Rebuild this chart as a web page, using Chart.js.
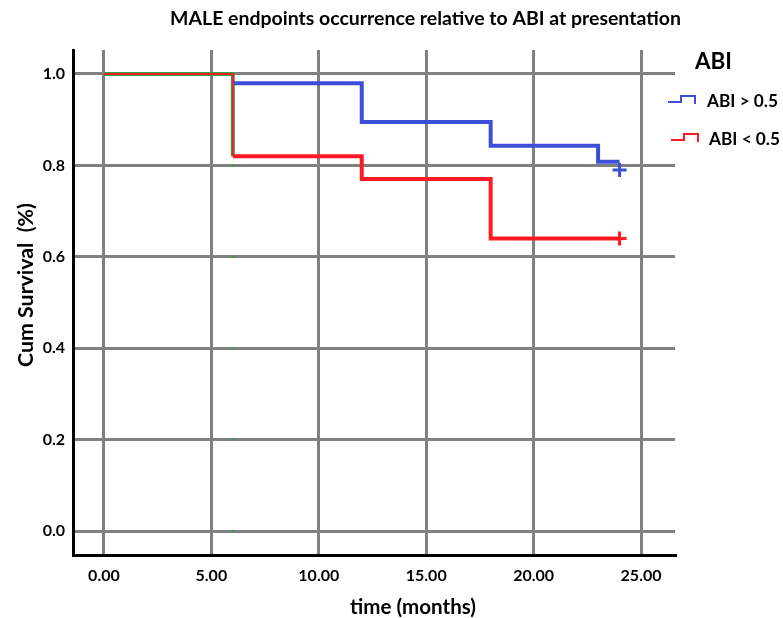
<!DOCTYPE html>
<html>
<head>
<meta charset="utf-8">
<script src="https://cdn.jsdelivr.net/npm/chart.js@4/dist/chart.umd.min.js"></script>
<style>
html,body{margin:0;padding:0;background:#fff;}
#wrap{width:783px;height:618px;position:relative;}
</style>
</head>
<body>
<div id="wrap"><canvas id="c" width="783" height="618"></canvas></div>
<script>
// ---- data ----
const chartTitle = "MALE endpoints occurrence relative to ABI at presentation";
const xTitleBold = "time";
const xTitleRest = " (months)";
const yTitle = "Cum Survival  (%)";
const legendTitle = "ABI";
const xTickValues = [0, 5, 10, 15, 20, 25];
const yTickValues = [0, 0.2, 0.4, 0.6, 0.8, 1.0];

const highLabel = "ABI > 0.5";
const highTime = [0, 6, 12, 18, 23, 24];
const highSurv = [1.0, 0.98, 0.895, 0.843, 0.808, 0.808];
const highCensorTime = [24];
const highCensorSurv = [0.79];

const lowLabel = "ABI < 0.5";
const lowTime = [0, 6, 12, 18, 24];
const lowSurv = [1.0, 0.82, 0.77, 0.64, 0.64];
const lowCensorTime = [24];
const lowCensorSurv = [0.64];

const overallTime = [0, 6];
const overallSurv = [1.0, 0.82];
const overallMarkTime = [6, 6, 6, 6, 6];
const overallMarkSurv = [0.8, 0.6, 0.4, 0.2, 0.0];

// ---- build ----
const BLUE = "#3d4fd6";
const RED = "#ff1a24";
const GREEN = "#1fae45";
const GRID = "#808080";
const FONT = "Lato, 'Open Sans', 'Liberation Sans', sans-serif";

const pts = (xs, ys) => xs.map((x, i) => ({x: x, y: ys[i]}));
const firstThin = {borderWidth: c => (c.p0DataIndex === 0 ? 2 : 4)};

function fitFont(ctx, text, width, weight) {
  ctx.font = weight + " 100px " + FONT;
  const w = ctx.measureText(text).width;
  const size = 100 * width / w;
  ctx.font = weight + " " + size.toFixed(2) + "px " + FONT;
  return size;
}

const decor = {
  id: 'decor',
  afterDraw(chart) {
    const ctx = chart.ctx;
    ctx.save();
    ctx.fillStyle = "#000";
    ctx.textBaseline = "middle";
    // title
    ctx.textAlign = "center";
    fitFont(ctx, chartTitle, 511, "bold");
    ctx.fillText(chartTitle, 425.5, 19);
    // x title
    fitFont(ctx, xTitleBold + xTitleRest, 126, "bold");
    const full = ctx.measureText(xTitleBold + xTitleRest).width;
    const w1 = ctx.measureText(xTitleBold).width;
    const sx = 413 - full / 2;
    ctx.textAlign = "left";
    ctx.fillText(xTitleBold, sx, 607);
    ctx.fillText(xTitleRest, sx + w1, 607);
    // y title
    ctx.save();
    ctx.translate(26, 285);
    ctx.rotate(-Math.PI / 2);
    ctx.textAlign = "center";
    fitFont(ctx, yTitle, 164, "bold");
    ctx.fillText(yTitle, 0, 0);
    ctx.restore();
    // legend
    ctx.textAlign = "left";
    fitFont(ctx, legendTitle, 37, "bold");
    ctx.fillText(legendTitle, 695, 62);
    const items = [
      {label: highLabel, color: BLUE, ix: 668, tx: 707, y: 101},
      {label: lowLabel, color: RED, ix: 671, tx: 709, y: 139}
    ];
    items.forEach(it => {
      ctx.strokeStyle = it.color;
      ctx.lineWidth = 2;
      ctx.beginPath();
      ctx.moveTo(it.ix, it.y + 1);
      ctx.lineTo(it.ix + 13, it.y + 1);
      ctx.lineTo(it.ix + 13, it.y - 5);
      ctx.lineTo(it.ix + 27, it.y - 5);
      ctx.lineTo(it.ix + 27, it.y + 3);
      ctx.stroke();
      ctx.fillStyle = "#000";
      fitFont(ctx, it.label, 71, "bold");
      ctx.fillText(it.label, it.tx, it.y);
    });
    ctx.restore();
  }
};

new Chart(document.getElementById('c'), {
  type: 'line',
  data: {
    datasets: [
      {label: 'overall', order: 4, data: pts(overallTime, overallSurv), stepped: 'before', borderColor: GREEN, borderWidth: 4, pointRadius: 0, fill: false},
      {label: 'marks', order: 5, data: pts(overallMarkTime, overallMarkSurv), showLine: false, pointStyle: 'rect', pointRadius: 1.5, pointBackgroundColor: GREEN, pointBorderWidth: 0},
      {label: highLabel, order: 3, data: pts(highTime, highSurv), stepped: 'before', borderColor: BLUE, borderWidth: 4, segment: firstThin, pointRadius: 0, fill: false},
      {label: lowLabel, order: 2, data: pts(lowTime, lowSurv), stepped: 'before', borderColor: RED, borderWidth: 4, segment: firstThin, pointRadius: 0, fill: false},
      {label: 'hc', order: 1, data: pts(highCensorTime, highCensorSurv), showLine: false, pointStyle: 'cross', pointRadius: 7, pointBorderColor: BLUE, pointBorderWidth: 3},
      {label: 'lc', order: 0, data: pts(lowCensorTime, lowCensorSurv), showLine: false, pointStyle: 'cross', pointRadius: 7, pointBorderColor: RED, pointBorderWidth: 3}
    ]
  },
  options: {
    responsive: false,
    animation: false,
    events: [],
    layout: {padding: {top: 50, right: 108, left: 0, bottom: 0}},
    plugins: {legend: {display: false}, title: {display: false}, tooltip: {enabled: false}},
    scales: {
      x: {
        type: 'linear', min: -1.44, max: 26.58,
        afterBuildTicks: s => { s.ticks = xTickValues.map(v => ({value: v})); },
        afterFit: s => { s.height = 63; },
        grid: {color: GRID, lineWidth: 3, drawTicks: false},
        border: {color: '#000', width: 3},
        ticks: {padding: 11, color: '#000', font: {family: FONT, size: 16, weight: 'bold'}, callback: v => Number(v).toFixed(2), maxRotation: 0, autoSkip: false}
      },
      y: {
        type: 'linear', min: -0.0525, max: 1.0525,
        afterBuildTicks: s => { s.ticks = yTickValues.map(v => ({value: v})); },
        afterFit: s => { s.width = 73; },
        grid: {color: GRID, lineWidth: 3, drawTicks: false},
        border: {color: '#000', width: 3},
        ticks: {padding: 8, color: '#000', font: {family: FONT, size: 16, weight: 'bold'}, callback: v => Number(v).toFixed(1), autoSkip: false}
      }
    }
  },
  plugins: [decor]
});
</script>
</body>
</html>
